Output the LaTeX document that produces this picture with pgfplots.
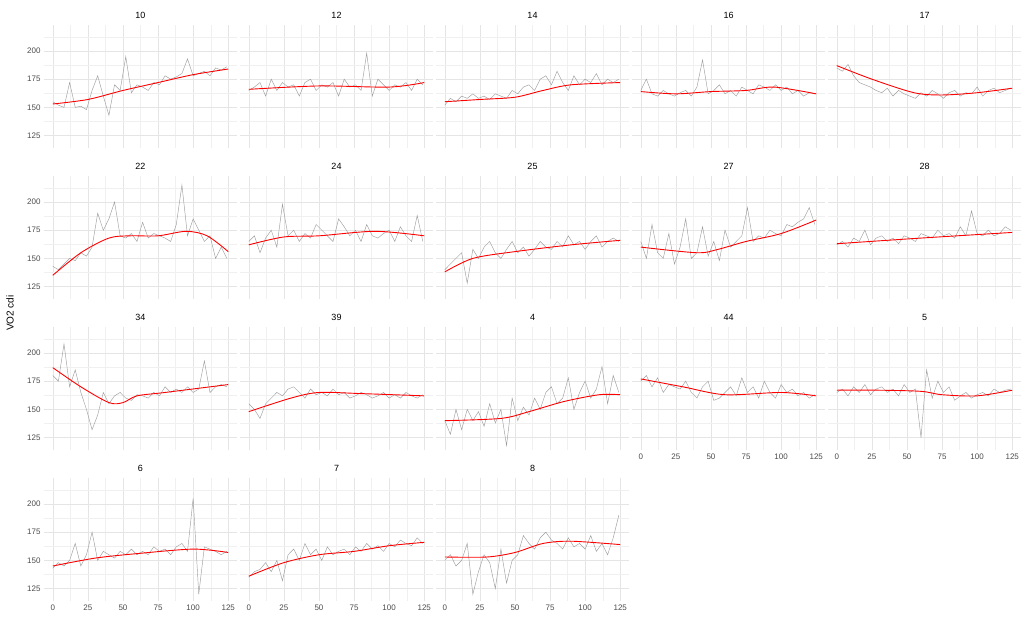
\documentclass[border=0pt]{standalone}
\usepackage{pgfplots}
\pgfplotsset{compat=1.18}
\usepgfplotslibrary{groupplots}
\usepackage{fontspec}
\setmainfont{Liberation Sans}
\newcommand\G[1]{\addplot[color=black!38,line width=0.45pt] table[header=false,x expr=\coordindex*4,y index=0,row sep=\\]{#1};}
\newcommand\R[1]{\addplot[red,line width=0.9pt,smooth] coordinates {#1};}
\def\XL{xticklabels={0,25,50,75,100,125}}
\begin{document}
\begin{tikzpicture}
\begin{groupplot}[group style={group size=5 by 4,horizontal sep=3pt,vertical sep=28pt},
 scale only axis,width=193pt,height=123pt,xmin=-6.25,xmax=131.25,ymin=114,ymax=223,
 axis line style={draw=none},major tick length=0pt,minor tick length=0pt,
 xtick={0,25,50,75,100,125},ytick={125,150,175,200},
 minor xtick={12.5,37.5,62.5,87.5,112.5},minor ytick={112.5,137.5,162.5,187.5,212.5},
 grid=both,major grid style={color=black!10,line width=0.5pt},minor grid style={color=black!6,line width=0.3pt},
 xticklabels={},yticklabels={},
 /pgf/number format/assume math mode=true,
 tick label style={font=\fontsize{8}{9}\selectfont,text=black!70},
 title style={font=\fontsize{9}{10}\selectfont,yshift=-3pt},
 clip=false]
\nextgroupplot[title=10,yticklabels={125,150,175,200}]
\G{155\\152\\150\\172\\150\\151\\148\\165\\178\\160\\143\\170\\165\\195\\163\\170\\168\\165\\172\\170\\178\\175\\177\\180\\193\\178\\180\\182\\178\\185\\183\\186\\}
\R{(0,153)(25,157)(50,165)(75,172)(100,179)(125,184)}
\nextgroupplot[title=12]
\G{165\\168\\172\\160\\175\\165\\172\\168\\170\\160\\172\\175\\165\\170\\168\\172\\160\\175\\168\\170\\165\\198\\160\\175\\170\\165\\170\\168\\172\\165\\175\\170\\}
\R{(0,166)(50,169)(100,168)(125,172)}
\nextgroupplot[title=14]
\G{152\\158\\155\\160\\158\\162\\158\\160\\157\\162\\160\\158\\165\\162\\168\\170\\165\\175\\178\\170\\182\\172\\165\\178\\170\\175\\172\\180\\170\\175\\172\\175\\}
\R{(0,155)(25,157)(50,159)(70,165)(90,170)(125,172)}
\nextgroupplot[title=16]
\G{165\\175\\162\\160\\165\\162\\160\\163\\165\\160\\168\\192\\162\\165\\170\\162\\165\\160\\168\\165\\162\\170\\168\\165\\170\\165\\168\\162\\165\\160\\163\\162\\}
\R{(0,164)(25,162)(50,164)(75,165)(95,168)(125,162)}
\nextgroupplot[title=17]
\G{185\\182\\188\\178\\172\\170\\168\\165\\163\\167\\160\\165\\162\\160\\158\\163\\160\\165\\162\\158\\163\\165\\160\\163\\162\\168\\160\\165\\167\\163\\165\\167\\}
\R{(0,187)(25,175)(55,163)(75,161)(100,163)(125,167)}
\nextgroupplot[title=22,yticklabels={125,150,175,200}]
\G{143\\140\\145\\150\\148\\155\\152\\160\\190\\175\\185\\200\\170\\168\\172\\165\\182\\168\\172\\170\\168\\165\\180\\215\\170\\185\\175\\165\\170\\150\\160\\150\\}
\R{(0,135)(20,155)(40,168)(55,170)(75,170)(95,174)(110,170)(125,156)}
\nextgroupplot[title=24]
\G{165\\170\\155\\168\\175\\160\\198\\170\\175\\165\\172\\168\\180\\175\\170\\165\\185\\178\\170\\175\\165\\180\\170\\168\\172\\175\\165\\178\\170\\165\\188\\165\\}
\R{(0,162)(25,169)(50,170)(90,174)(125,170)}
\nextgroupplot[title=25]
\G{140\\145\\150\\155\\128\\158\\150\\160\\165\\155\\150\\158\\165\\155\\160\\152\\158\\165\\160\\158\\165\\160\\170\\162\\165\\158\\165\\170\\160\\165\\168\\165\\}
\R{(0,138)(20,150)(50,156)(90,162)(125,166)}
\nextgroupplot[title=27]
\G{165\\150\\180\\155\\150\\172\\145\\160\\185\\150\\155\\178\\152\\165\\148\\175\\160\\165\\170\\195\\165\\170\\168\\175\\172\\170\\180\\178\\182\\185\\195\\180\\}
\R{(0,160)(40,155)(55,158)(75,165)(100,172)(125,184)}
\nextgroupplot[title=28]
\G{162\\165\\160\\168\\165\\175\\162\\168\\170\\165\\168\\163\\170\\168\\165\\172\\170\\168\\175\\170\\172\\168\\178\\170\\192\\172\\170\\175\\170\\172\\178\\175\\}
\R{(0,163)(60,168)(125,173)}
\nextgroupplot[title=34,yticklabels={125,150,175,200}]
\G{180\\175\\208\\170\\185\\165\\150\\132\\145\\165\\155\\162\\165\\160\\158\\163\\162\\160\\165\\162\\170\\165\\168\\165\\170\\165\\168\\193\\165\\170\\172\\170\\}
\R{(0,187)(20,170)(40,156)(50,156)(60,162)(80,165)(125,172)}
\nextgroupplot[title=39]
\G{155\\150\\142\\155\\160\\165\\162\\168\\170\\165\\160\\168\\163\\165\\162\\168\\163\\165\\160\\162\\165\\163\\160\\162\\165\\160\\163\\160\\165\\162\\160\\163\\}
\R{(0,148)(30,160)(50,165)(80,164)(125,162)}
\nextgroupplot[title=4]
\G{140\\128\\150\\132\\150\\140\\148\\135\\155\\138\\150\\118\\160\\140\\152\\145\\160\\150\\165\\170\\155\\160\\178\\150\\165\\175\\160\\168\\188\\155\\180\\165\\}
\R{(0,140)(40,142)(60,148)(85,157)(110,163)(125,163)}
\nextgroupplot[title=44,\XL]
\G{175\\180\\170\\178\\165\\172\\170\\168\\175\\165\\160\\170\\175\\158\\160\\165\\170\\162\\178\\165\\170\\160\\175\\165\\160\\172\\165\\168\\162\\165\\160\\163\\}
\R{(0,177)(30,170)(60,163)(100,165)(125,162)}
\nextgroupplot[title=5,\XL]
\G{165\\168\\162\\170\\165\\172\\163\\168\\170\\165\\168\\162\\172\\165\\168\\125\\185\\160\\175\\165\\170\\158\\162\\165\\160\\163\\165\\162\\168\\165\\167\\168\\}
\R{(0,167)(30,167)(60,166)(75,163)(100,162)(125,167)}
\nextgroupplot[title=6,yticklabels={125,150,175,200},\XL]
\G{143\\148\\145\\150\\165\\145\\155\\175\\150\\158\\155\\152\\158\\155\\160\\155\\158\\155\\162\\158\\160\\155\\162\\165\\158\\205\\120\\162\\160\\158\\155\\158\\}
\R{(0,145)(30,152)(60,156)(100,160)(125,157)}
\nextgroupplot[title=7,\XL]
\G{135\\140\\142\\148\\140\\150\\132\\155\\160\\150\\165\\155\\160\\150\\162\\155\\158\\160\\155\\162\\158\\165\\160\\163\\158\\165\\162\\168\\165\\163\\170\\165\\}
\R{(0,136)(25,148)(50,155)(75,158)(100,163)(125,166)}
\nextgroupplot[title=8,\XL]
\G{150\\155\\145\\150\\165\\120\\140\\155\\148\\125\\160\\130\\150\\155\\172\\165\\160\\170\\175\\168\\165\\160\\170\\162\\165\\160\\172\\158\\165\\155\\170\\190\\}
\R{(0,153)(30,153)(50,157)(70,165)(90,167)(125,164)}
\end{groupplot}
\path (group c1r1.north west)+(-44pt,25pt) coordinate (tl);
\path (group c5r1.north east)+(3pt,0) coordinate (tr);
\path (group c1r4.south west)+(-44pt,-41pt) coordinate (bl);
\path (tl) -- (tr) -- (bl);
\node[rotate=90,font=\fontsize{10}{12}\selectfont] at ($(group c1r2.south west)!0.5!(group c1r3.north west)+(-34pt,0)$) {VO2 cdi};
\end{tikzpicture}
\end{document}
